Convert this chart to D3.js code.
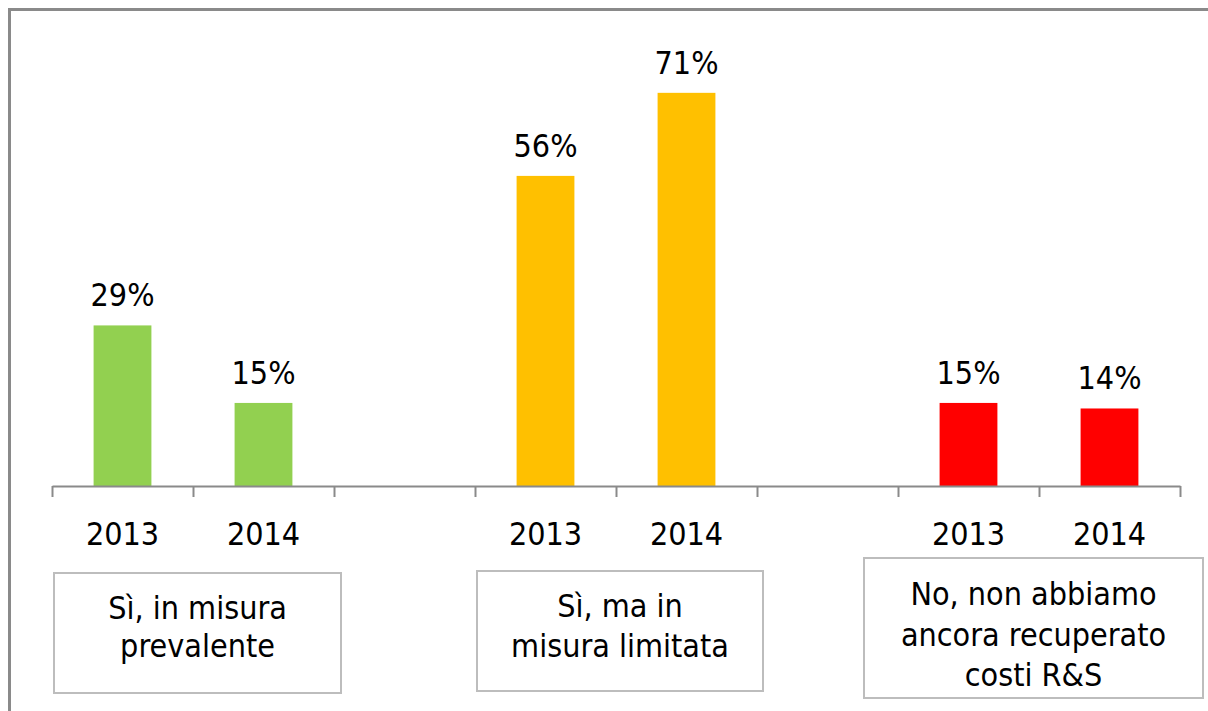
<!DOCTYPE html>
<html>
<head>
<meta charset="utf-8">
<script src="https://cdn.jsdelivr.net/npm/d3@7"></script>
<style>
  html, body { margin: 0; padding: 0; background: #fff; }
  svg { display: block; }
  text { font-family: "DejaVu Sans Condensed", "DejaVu Sans", sans-serif; fill: #000; }
</style>
</head>
<body>
<svg id="chart" width="1208" height="711"></svg>
<script>
// ---- data ----
const groupLabels = [
  ["Sì, in misura", "prevalente"],
  ["Sì, ma in", "misura limitata"],
  ["No, non abbiamo", "ancora recuperato", "costi R&S"]
];
const years = ["2013", "2014"];
const values2013 = [29, 56, 15];
const values2014 = [15, 71, 14];
const groupColors = ["#92D050", "#FFC000", "#FF0000"];

// ---- build slots ----
const slots = [];
groupLabels.forEach((g, gi) => {
  slots.push({ key: gi + "-2013", group: gi, year: years[0], value: values2013[gi] });
  slots.push({ key: gi + "-2014", group: gi, year: years[1], value: values2014[gi] });
  if (gi < groupLabels.length - 1) slots.push({ key: gi + "-gap", group: gi, year: null, value: null });
});

const svg = d3.select("#chart");
const x0 = 52, x1 = 1180, baseY = 486;
const fs = 32;

const x = d3.scaleBand()
  .domain(slots.map(d => d.key))
  .range([x0, x1])
  .paddingInner(0.59)
  .paddingOuter(0.295);

const xIdx = d3.scaleLinear().domain([0, slots.length]).range([x0, x1]);

const y = d3.scaleLinear().domain([0, 80]).range([baseY, 43]);

// outer frame (clipped at right/bottom)
svg.append("path")
  .attr("d", "M9.5,711 V9.5 H1208")
  .attr("fill", "none")
  .attr("stroke", "#8a8a8a")
  .attr("stroke-width", 3);

// bars
const bars = slots.filter(d => d.value !== null);
svg.append("g").selectAll("rect").data(bars).join("rect")
  .attr("x", d => x(d.key))
  .attr("width", x.bandwidth())
  .attr("y", d => y(d.value))
  .attr("height", d => baseY - y(d.value))
  .attr("fill", d => groupColors[d.group]);

// value labels
svg.append("g").selectAll("text").data(bars).join("text")
  .attr("x", d => x(d.key) + x.bandwidth() / 2)
  .attr("y", d => y(d.value) - 19)
  .attr("text-anchor", "middle")
  .attr("font-size", fs)
  .text(d => d.value + "%");

// axis
const axis = d3.axisBottom(xIdx)
  .tickValues(d3.range(0, slots.length + 1))
  .tickFormat("")
  .tickSizeInner(11)
  .tickSizeOuter(0);
const ag = svg.append("g").attr("transform", `translate(0,${baseY})`).call(axis);
ag.select(".domain").attr("stroke", "#8a8a8a").attr("stroke-width", 2);
ag.selectAll(".tick line").attr("stroke", "#8a8a8a").attr("stroke-width", 2);

// year labels
svg.append("g").selectAll("text").data(bars).join("text")
  .attr("x", d => x(d.key) + x.bandwidth() / 2)
  .attr("y", 545)
  .attr("text-anchor", "middle")
  .attr("font-size", fs)
  .text(d => d.year);

// category boxes
const boxes = [
  { x: 54, y: 573, w: 287, h: 120, first: 619, lh: 38 },
  { x: 477, y: 571, w: 286, h: 120, first: 617, lh: 40 },
  { x: 864, y: 558, w: 339, h: 140, first: 605, lh: 40.5 }
];
groupLabels.forEach((lines, gi) => {
  const b = boxes[gi];
  const g = svg.append("g");
  g.append("rect")
    .attr("x", b.x).attr("y", b.y).attr("width", b.w).attr("height", b.h)
    .attr("fill", "#fff").attr("stroke", "#bdbdbd").attr("stroke-width", 2);
  const t = g.append("text")
    .attr("text-anchor", "middle")
    .attr("font-size", fs);
  lines.forEach((ln, li) => {
    t.append("tspan")
      .attr("x", b.x + b.w / 2)
      .attr("y", b.first + li * b.lh)
      .text(ln);
  });
});
</script>
</body>
</html>
